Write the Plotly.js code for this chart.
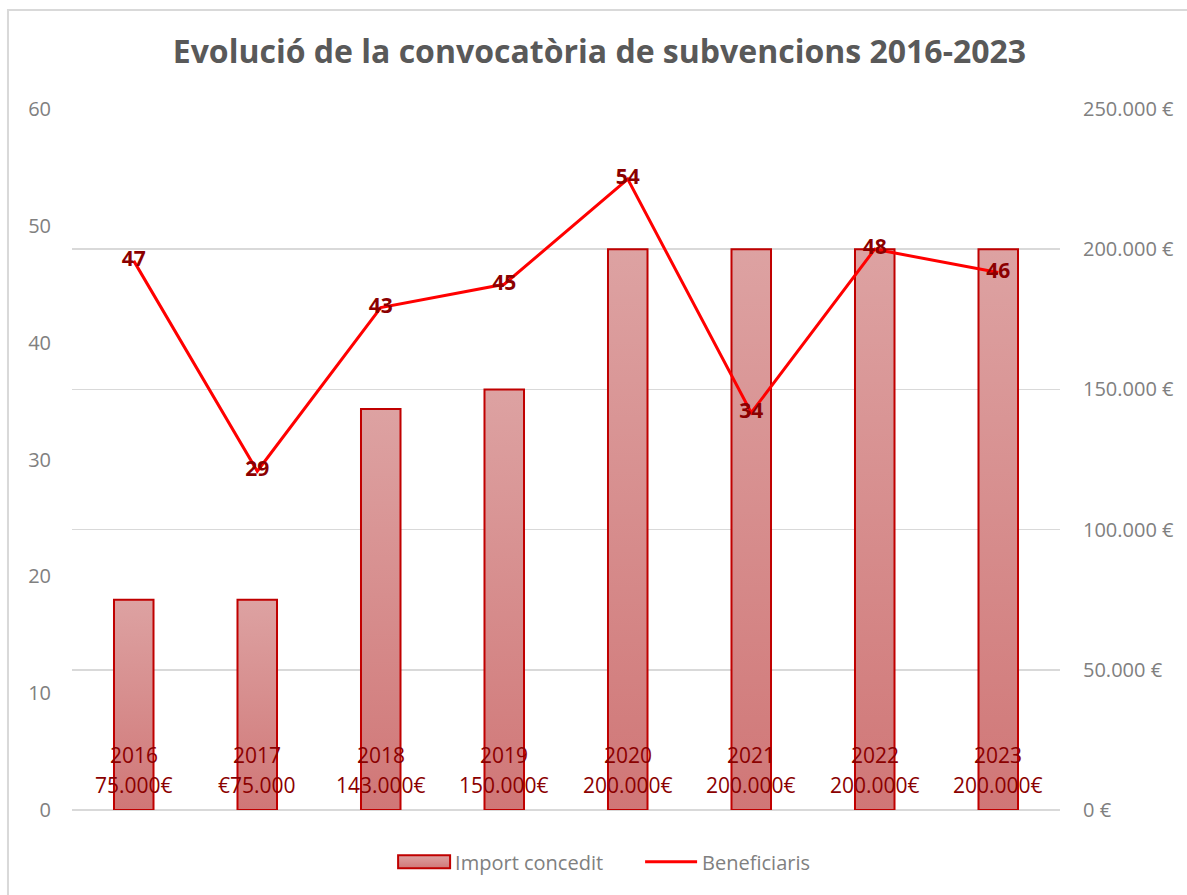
<!DOCTYPE html>
<html>
<head>
<meta charset="utf-8">
<script src="https://cdn.plot.ly/plotly-3.0.1.min.js"></script>
<style>html,body{margin:0;padding:0;background:#fff;}#chart{width:1187px;height:895px;}</style>
</head>
<body>
<div id="chart"></div>
<script>
const years = ['2016','2017','2018','2019','2020','2021','2022','2023'];
const importConcedit = [75000, 75000, 143000, 150000, 200000, 200000, 200000, 200000];
const importLabels = ['75.000€','€75.000','143.000€','150.000€','200.000€','200.000€','200.000€','200.000€'];
const beneficiaris = [47, 29, 43, 45, 54, 34, 48, 46];
const leftTicks = [0, 10, 20, 30, 40, 50, 60];
const rightTicks = [0, 50000, 100000, 150000, 200000, 250000];
const rightTickLabels = ['0 €', '50.000 €', '100.000 €', '150.000 €', '200.000 €', '250.000 €'];

const FONT = 'Open Sans, Noto Sans, sans-serif';
const DARKRED = '#8b0000';

const bars = {
  type: 'bar', name: 'Import concedit', x: years, y: importConcedit,
  yaxis: 'y', width: 0.32,
  marker: {color: '#d68a8a', line: {color: '#c00000', width: 2}},
  hoverinfo: 'x+y'
};
const line = {
  type: 'scatter', mode: 'lines+text', name: 'Beneficiaris', x: years, y: beneficiaris,
  yaxis: 'y2', line: {color: '#ff0000', width: 3},
  text: beneficiaris.map(String), textposition: 'middle center',
  textfont: {family: FONT, size: 21, color: DARKRED, weight: 'bold'},
  cliponaxis: false
};

const annotations = [];
years.forEach((yr, i) => {
  annotations.push({x: i, y: 4.71, xref: 'x', yref: 'y2', text: yr, showarrow: false,
    xanchor: 'center', yanchor: 'middle', font: {family: FONT, size: 21, color: DARKRED}});
  annotations.push({x: i, y: 2.14, xref: 'x', yref: 'y2', text: importLabels[i], showarrow: false,
    xanchor: 'center', yanchor: 'middle', font: {family: FONT, size: 21, color: DARKRED}});
});

const layout = {
  width: 1187, height: 895,
  margin: {l: 72, r: 127, t: 109, b: 85},
  paper_bgcolor: '#fff', plot_bgcolor: '#fff',
  font: {family: FONT, color: '#808080'},
  title: {text: 'Evolució de la convocatòria de subvencions 2016-2023',
    font: {family: FONT, size: 32, color: '#595959', weight: 'bold'},
    x: 0.505, xanchor: 'center', y: 0.942, yanchor: 'middle'},
  xaxis: {type: 'category', categoryarray: years, range: [-0.5, 7.5], autorange: false,
    showticklabels: false, showgrid: false, zeroline: false, showline: false, ticks: ''},
  yaxis: {side: 'right', range: [0, 250000], autorange: false, tickvals: rightTicks, ticktext: rightTickLabels,
    showgrid: true, gridcolor: '#d9d9d9', gridwidth: 1.5, zeroline: true, zerolinecolor: '#d9d9d9', zerolinewidth: 2,
    showline: false, ticks: '', ticklabelstandoff: 22, tickfont: {family: FONT, size: 20, color: '#808080'}},
  yaxis2: {overlaying: 'y', side: 'left', range: [0, 60], autorange: false, tickvals: leftTicks,
    showgrid: false, zeroline: false, showline: false, ticks: '', ticklabelstandoff: 20,
    tickfont: {family: FONT, size: 20, color: '#808080'}},
  legend: {orientation: 'h', x: 0.325, xanchor: 'left', y: -0.074, yanchor: 'middle',
    font: {family: FONT, size: 20, color: '#808080'}, itemwidth: 52,
    entrywidth: 180, entrywidthmode: 'pixels'},
  annotations: annotations,
  shapes: [{type: 'rect', xref: 'paper', yref: 'paper', x0: -0.0648, x1: 1.14, y0: -0.14, y1: 1.1412,
    line: {color: '#d9d9d9', width: 2}, fillcolor: 'rgba(0,0,0,0)', layer: 'below'}],
  showlegend: true
};

Plotly.newPlot('chart', [bars, line], layout, {displayModeBar: false, staticPlot: true}).then(gd => {
  const svg = gd.querySelector('svg.main-svg');
  const ns = 'http://www.w3.org/2000/svg';
  let defs = svg.querySelector('defs');
  if (!defs) { defs = document.createElementNS(ns, 'defs'); svg.insertBefore(defs, svg.firstChild); }
  const grad = document.createElementNS(ns, 'linearGradient');
  grad.setAttribute('id', 'barGrad');
  grad.setAttribute('x1', '0'); grad.setAttribute('y1', '0');
  grad.setAttribute('x2', '0'); grad.setAttribute('y2', '1');
  [['0', '#dda2a2'], ['1', '#d07777']].forEach(([o, c]) => {
    const s = document.createElementNS(ns, 'stop');
    s.setAttribute('offset', o); s.setAttribute('stop-color', c);
    grad.appendChild(s);
  });
  defs.appendChild(grad);
  gd.querySelectorAll('.barlayer .point path').forEach(p => {
    const f = p.style.fill;
    if (f && f.indexOf('214') >= 0) p.style.fill = 'url(#barGrad)';
  });
  gd.querySelectorAll('.legend .legendpoints path').forEach(p => {
    const f = p.style.fill;
    if (f && f.indexOf('214') >= 0) {
      p.style.fill = 'url(#barGrad)';
      p.setAttribute('d', 'M-26,-6.5H26V6.5H-26Z');
      p.setAttribute('transform', 'translate(31,0)');
    }
  });
});
</script>
</body>
</html>
